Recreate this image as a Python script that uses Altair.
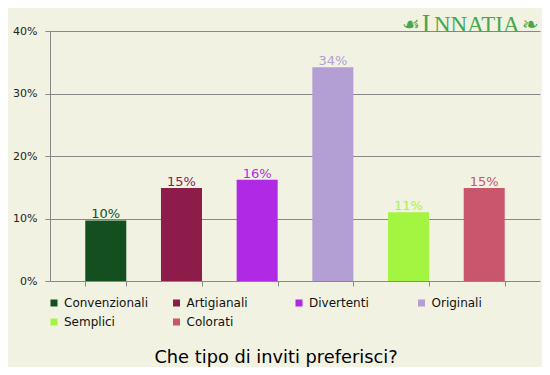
import altair as alt
import pandas as pd

categories = ["Convenzionali", "Artigianali", "Divertenti", "Originali", "Semplici", "Colorati"]
values = [9.7, 14.9, 16.2, 34.2, 11.0, 14.9]
labels = ["10%", "15%", "16%", "34%", "11%", "15%"]
colors = ["#14501f", "#8e1c4b", "#b02ae6", "#b39fd3", "#a3f542", "#c9566c"]
y_ticks = [0, 10, 20, 30, 40]
title_text = "Che tipo di inviti preferisci?"
logo_big = "I"
logo_rest = "NNATIA"
logo_left = "☙"
logo_right = "❧"

df = pd.DataFrame({"cat": categories, "val": values, "lab": labels})

x = alt.X("cat:N", sort=categories,
          scale=alt.Scale(paddingInner=0.458, paddingOuter=0.466),
          axis=alt.Axis(title=None, labels=False, ticks=True, tickBand="extent",
                        tickSize=5, tickColor="#888888", domain=False, grid=False))
y = alt.Y("val:Q", scale=alt.Scale(domain=[0, 40]),
          axis=alt.Axis(title=None, values=y_ticks, labelExpr="datum.value + '%'",
                        grid=True, gridColor="#888888", tickColor="#888888", tickSize=5,
                        domainColor="#888888", labelPadding=8, labelFontSize=11,
                        labelColor="#222222", labelFont="DejaVu Sans"))
color = alt.Color("cat:N", sort=categories,
                  scale=alt.Scale(domain=categories, range=colors),
                  legend=alt.Legend(title=None, orient="none", legendX=-2, legendY=266,
                                    columns=4, direction="horizontal", gridAlign="all",
                                    symbolType="square", symbolSize=49, symbolStrokeWidth=0,
                                    labelFontSize=12, labelFont="DejaVu Sans", labelColor="#111111",
                                    columnPadding=21.5, rowPadding=7, labelOffset=4, padding=0))

bars = alt.Chart(df).mark_bar().encode(x=x, y=y, color=color)
text = alt.Chart(df).mark_text(dy=-2, baseline="alphabetic", fontSize=13, font="DejaVu Sans").encode(
    x=alt.X("cat:N", sort=categories), y="val:Q", text="lab:N",
    color=alt.Color("cat:N", sort=categories, legend=None))

title = alt.Chart(pd.DataFrame({"t": [title_text]})).mark_text(
    fontSize=17.8, font="DejaVu Sans", color="#000000", align="center", baseline="alphabetic"
).encode(x=alt.value(226), y=alt.value(332), text="t:N")

logo_color = "#45a84e"
logo1 = alt.Chart(pd.DataFrame({"t": [logo_big]})).mark_text(
    fontSize=26, font="Liberation Serif", color=logo_color, align="center", baseline="alphabetic"
).encode(x=alt.value(376), y=alt.value(1), text="t:N")
logo2 = alt.Chart(pd.DataFrame({"t": [logo_rest]})).mark_text(
    fontSize=23, font="Liberation Serif", color=logo_color, align="left", baseline="alphabetic"
).encode(x=alt.value(384), y=alt.value(1), text="t:N")
logo3 = alt.Chart(pd.DataFrame({"t": [logo_left]})).mark_text(
    fontSize=20, font="DejaVu Sans", color=logo_color, align="right", baseline="alphabetic"
).encode(x=alt.value(370), y=alt.value(0), text="t:N")
logo4 = alt.Chart(pd.DataFrame({"t": [logo_right]})).mark_text(
    fontSize=20, font="DejaVu Sans", color=logo_color, align="left", baseline="alphabetic"
).encode(x=alt.value(472), y=alt.value(0), text="t:N")

chart = alt.layer(bars, text, title, logo1, logo2, logo3, logo4).properties(
    width=490, height=250,
    autosize=alt.AutoSizeParams(type="none"),
    padding={"left": 42, "top": 23, "right": 2, "bottom": 86},
    background="#f2f2e2",
).configure_view(stroke=None)

chart.save("out.html", embed_options={"renderer": "svg", "actions": False})
